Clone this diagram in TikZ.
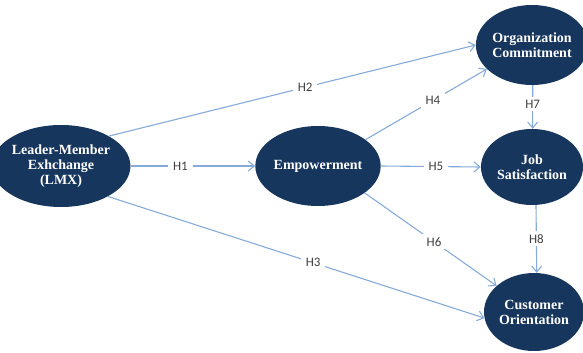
\documentclass[tikz,border=0pt]{standalone}
\usepackage{fontspec}
\setmainfont{Liberation Serif}
\newfontfamily\labfont{Carlito}
\usetikzlibrary{shapes.geometric,arrows.meta}
\definecolor{navy}{HTML}{17365D}
\definecolor{linkblue}{HTML}{86ABD9}
\definecolor{labgray}{HTML}{404040}
\tikzset{
  construct/.style={ellipse, fill=navy, draw=none, inner sep=0pt, text=white,
    font=\fontsize{14}{15}\selectfont\bfseries, align=center},
  link/.style={draw=linkblue, line width=1.1pt, -{Straight Barb[length=6pt,width=10pt,line width=1.1pt]}},
  hyp/.style={fill=white, text=labgray, inner xsep=5pt, inner ysep=3pt, font=\labfont\fontsize{13}{13}\selectfont}
}
\begin{document}
\begin{tikzpicture}[x=1pt,y=-1pt]
\useasboundingbox (0,0) rectangle (583,353);
\node[construct, minimum width=110pt, minimum height=82pt] (lmx) at (61,166) {Leader-Member\\Exhchange\\(LMX)};
\node[construct, minimum width=118pt, minimum height=80pt] (emp) at (318,166) {Empowerment};
\node[construct, minimum width=102pt, minimum height=80pt] (oc) at (532,45) {Organization\\Commitment};
\node[construct, minimum width=102pt, minimum height=76pt] (js) at (532,167) {Job\\Satisfaction};
\node[construct, minimum width=100pt, minimum height=78pt] (co) at (534,312) {Customer\\Orientation};

\draw[link] (lmx) -- node[hyp, pos=0.40] (h1) {H1} (emp);
\draw[link] (lmx.32) -- node[hyp, pos=0.535] (h2) {H2} (oc.180);
\draw[link] (lmx.-33) -- node[hyp, pos=0.545] (h3) {H3} (co.187);
\draw[link] (emp.29) -- node[hyp, pos=0.556] (h4) {H4} (oc.208);
\draw[link] (emp.0) -- node[hyp, pos=0.55] (h5) {H5} (js.180);
\draw[link] (emp.-30) -- node[hyp, pos=0.526] (h6) {H6} (co.145);
\draw[link] (oc.-89) -- node[hyp, pos=0.43] (h7) {H7} (js.89);
\draw[link] (js.-84) -- node[hyp, pos=0.5] (h8) {H8} (co.86);
\end{tikzpicture}
\end{document}
